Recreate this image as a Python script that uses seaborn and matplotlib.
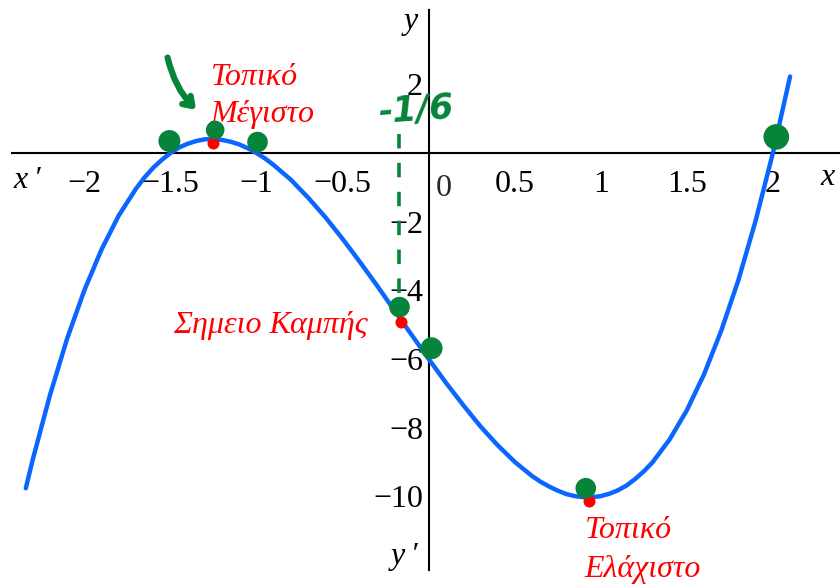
import matplotlib
matplotlib.use("Agg")
import matplotlib.pyplot as plt
import seaborn as sns
import pandas as pd

# Sampled points of the cubic curve y = f(x)
curve_x = [-2.34, -2.3, -2.2, -2.1, -2.0, -1.9, -1.8, -1.7, -1.65, -1.6, -1.55,
           -1.5, -1.45, -1.4, -1.35, -1.3, -1.25, -1.2, -1.15, -1.1, -1.05, -1.0,
           -0.95, -0.9, -0.8, -0.7, -0.6, -0.5, -0.4, -0.3, -0.2, -0.1, 0.0,
           0.1, 0.2, 0.3, 0.4, 0.5, 0.6, 0.65, 0.7, 0.75, 0.8, 0.85, 0.9, 0.95,
           1.0, 1.05, 1.1, 1.15, 1.2, 1.25, 1.3, 1.4, 1.5, 1.6, 1.7, 1.8, 1.9,
           2.0, 2.1]
curve_y = [-9.77, -8.94, -7.06, -5.41, -4.0, -2.81, -1.82, -1.04, -0.71, -0.43, -0.20,
           0.0, 0.16, 0.27, 0.35, 0.40, 0.41, 0.38, 0.33, 0.25, 0.14, 0.0,
           -0.16, -0.35, -0.78, -1.30, -1.87, -2.5, -3.17, -3.86, -4.58, -5.29, -6.0,
           -6.69, -7.34, -7.96, -8.51, -9.0, -9.41, -9.58, -9.72, -9.84, -9.94, -10.00, -10.03, -10.03,
           -10.0, -9.93, -9.83, -9.69, -9.50, -9.28, -9.02, -8.35, -7.5, -6.45, -5.18, -3.70, -1.97,
           0.0, 2.23]

# Special points: local max, inflection, local min
key_x = [-1.25, -0.16, 0.93]
key_y = [0.30, -4.93, -10.15]

# Hand-drawn green markers
pen_x = [-1.506, -0.994, -1.24, -0.169, 0.017, 0.913, 2.02]
pen_y = [0.35, 0.32, 0.67, -4.49, -5.69, -9.77, 0.47]
pen_s = [250, 220, 180, 220, 250, 220, 340]

x_ticks = [-2, -1.5, -1, -0.5, 0.5, 1, 1.5, 2]
x_tick_labels = ["−2", "−1.5", "−1", "−0.5", "0.5", "1", "1.5", "2"]
y_ticks = [2, -2, -4, -6, -8, -10]
y_tick_labels = ["2", "−2", "−4", "−6", "−8", "−10"]

sns.set_theme(style="white")
plt.rcParams["font.family"] = ["Liberation Serif", "DejaVu Serif"]

BLUE = "#0a66ff"
RED = "#ff0000"
GREEN = "#06843a"
FS = 23

fig = plt.figure(figsize=(8.4, 5.85), dpi=100)
ax = fig.add_axes([0, 0, 1, 1])
ax.set_xlim(-2.49, 2.39)
ax.set_ylim(-12.59, 4.46)

df = pd.DataFrame({"x": curve_x, "y": curve_y})
sns.lineplot(data=df, x="x", y="y", ax=ax, color=BLUE, linewidth=3.2,
             estimator=None, sort=False, zorder=3)

# axes through the origin
for side in ("top", "right"):
    ax.spines[side].set_visible(False)
ax.spines["left"].set_position(("data", 0))
ax.spines["bottom"].set_position(("data", 0))
ax.spines["bottom"].set_bounds(-2.42, 2.39)
ax.spines["left"].set_bounds(-12.16, 4.17)
for side in ("left", "bottom"):
    ax.spines[side].set_color("black")
    ax.spines[side].set_linewidth(1.5)

ax.set_xticks(x_ticks)
ax.set_xticklabels(x_tick_labels)
ax.set_yticks(y_ticks)
ax.set_yticklabels(y_tick_labels)
ax.tick_params(axis="both", direction="inout", length=8, width=1.3,
               color="black", labelsize=FS, labelcolor="black")
ax.tick_params(axis="x", pad=8)
ax.tick_params(axis="y", pad=0)
ax.set_xlabel("")
ax.set_ylabel("")
ax.grid(False)

ax.text(0.09, -0.6, "0", fontsize=FS, ha="center", va="top")

# axis names
lab = dict(fontsize=FS, style="italic", color="black")
ax.text(-2.33, -0.79, "x\u2009\u2032", ha="center", va="center", **lab)
ax.text(2.32, -0.70, "x", ha="center", va="center", **lab)
ax.text(-0.105, 3.82, "y", ha="center", va="center", **lab)
ax.text(-0.14, -11.75, "y\u2009\u2032", ha="center", va="center", **lab)

# key points
ax.scatter(key_x, key_y, s=75, color=RED, zorder=5, linewidths=0)

red = dict(fontsize=FS, style="italic", color=RED, va="baseline")
ax.text(-1.265, 1.98, "Τοπικό", ha="left", **red)
ax.text(-1.265, 0.90, "Μέγιστο", ha="left", **red)
ax.text(-0.355, -5.25, "Σημειο Καμπής", ha="right", **red)
ax.text(0.907, -11.22, "Τοπικό", ha="left", **red)
ax.text(0.907, -12.36, "Ελάχιστο", ha="left", **red)

# green pen annotations
ax.scatter(pen_x, pen_y, s=pen_s, color=GREEN, zorder=6, linewidths=0)
ax.plot([-0.17, -0.17], [0.55, -4.2], color=GREEN, linewidth=2.6,
        linestyle=(0, (4, 4)), zorder=4, solid_capstyle="round")
ax.text(-0.076, 1.25, "-1/6", fontsize=25, color=GREEN, ha="center",
        va="center", fontweight="bold", style="italic", family="DejaVu Sans",
        rotation=4)
ax.annotate("", xy=(-1.34, 1.2), xytext=(-1.52, 2.86),
            arrowprops=dict(arrowstyle="->,head_length=0.5,head_width=0.35",
                            color=GREEN, lw=4.5,
                            connectionstyle="arc3,rad=0.15"))

fig.savefig("out.png", dpi=100)
